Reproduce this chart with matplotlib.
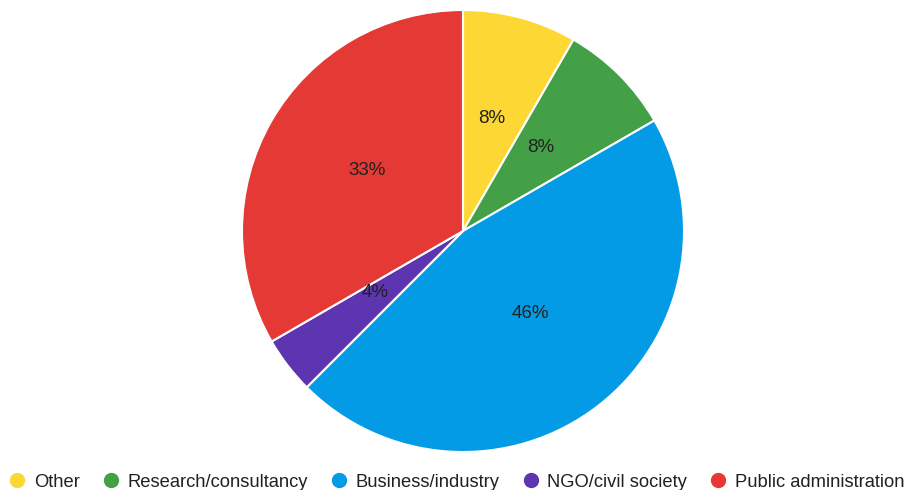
import matplotlib.pyplot as plt
from matplotlib.lines import Line2D

plt.rcParams['font.family'] = ['Liberation Sans', 'DejaVu Sans']

categories = ['Other', 'Research/consultancy', 'Business/industry', 'NGO/civil society', 'Public administration']
counts = [2, 2, 11, 1, 8]
colors = ['#FDD835', '#43A047', '#039BE5', '#5E35B1', '#E53935']

fig = plt.figure(figsize=(9.09, 4.90), dpi=100)
ax = fig.add_axes([242 / 909, 38 / 490, 442 / 909, 442 / 490])

wedges, texts, autotexts = ax.pie(
    counts, colors=colors, startangle=90, counterclock=False,
    autopct='%1.0f%%', pctdistance=0.5,
    wedgeprops={'edgecolor': 'white', 'linewidth': 1.5},
    textprops={'fontsize': 13.5, 'color': '#212121'})
# nudge the percentage labels up a little
for t in autotexts:
    x, y = t.get_position()
    t.set_position((x, y + 0.025))
ax.set_xlim(-1, 1)
ax.set_ylim(-1, 1)
ax.set_aspect('equal')

handles = [Line2D([], [], marker='o', linestyle='', markersize=10,
                  markerfacecolor=c, markeredgecolor=c) for c in colors]
fig.legend(handles, categories, loc='center', bbox_to_anchor=(0.502, 8 / 490),
           ncol=5, frameon=False, fontsize=13.2, handletextpad=0.4,
           columnspacing=1.2, handlelength=1.0, labelcolor='#212121')

fig.savefig('out.png', dpi=100)
